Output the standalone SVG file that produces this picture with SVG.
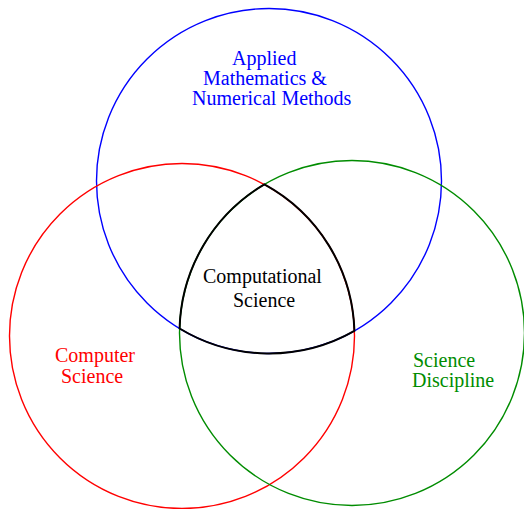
<svg xmlns="http://www.w3.org/2000/svg" width="524" height="509" viewBox="0 0 524 509">
<style>
.c{fill:none;stroke-width:1.4}
text{font-family:"Liberation Serif","Times New Roman",serif;font-size:20px}
</style>
<rect width="524" height="509" fill="#fff"/>
<g id="applied-math">
<circle class="c" cx="269" cy="181" r="172.5" stroke="#0000ff"/>
<text fill="#0000ff"><tspan x="232" y="65">Applied</tspan><tspan x="203" y="85">Mathematics &amp;</tspan><tspan x="192" y="105">Numerical Methods</tspan></text>
</g>
<g id="computer-science">
<circle class="c" cx="182" cy="336" r="172.5" stroke="#ff0000"/>
<text fill="#ff0000"><tspan x="55" y="362">Computer</tspan><tspan x="61" y="383">Science</tspan></text>
</g>
<g id="science-discipline">
<circle class="c" cx="352" cy="333" r="172.5" stroke="#008c00"/>
<text fill="#008c00"><tspan x="413" y="367">Science</tspan><tspan x="412" y="387">Discipline</tspan></text>
</g>
<g id="computational-science">
<path d="M264.4,184.4 A172.5,172.5 0 0 0 179.6,328.5 A172.5,172.5 0 0 0 354.4,330.9 A172.5,172.5 0 0 0 264.4,184.4 Z" fill="none" stroke="#000" stroke-width="2"/>
<text fill="#000"><tspan x="203" y="283">Computational</tspan><tspan x="233" y="307">Science</tspan></text>
</g>
</svg>
